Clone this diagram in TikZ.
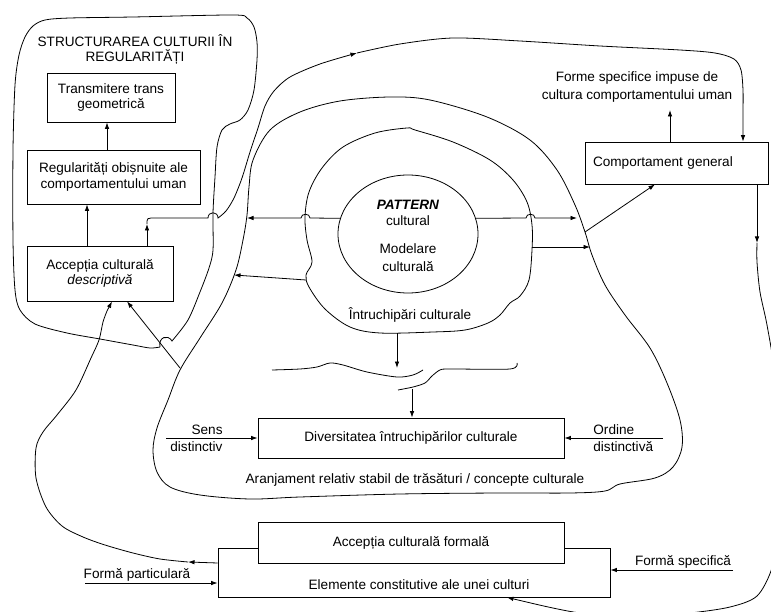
\documentclass[tikz,border=0pt]{standalone}
\usepackage{fontspec}
\setmainfont{Liberation Sans}
\usetikzlibrary{arrows.meta,shapes.geometric}
\begin{document}
\begin{tikzpicture}[x=1pt,y=-1pt, line width=0.8pt,
  >={Latex[length=6.5pt,width=4.5pt]},
  every node/.style={font=\fontsize{13.6}{15.5}\selectfont, inner sep=0pt},
  box/.style={draw, rectangle, align=center, fill=white},
  txt/.style={align=center}]
\clip (0,0) rectangle (771,612);
\fill[white] (0,0) rectangle (771,612);

% helper coordinates
\coordinate (c87) at (87,0);   \coordinate (c107) at (107,0);
\coordinate (c112) at (112,0); \coordinate (c127) at (127,0);
\coordinate (c147) at (147,0); \coordinate (c412) at (412,0);
\coordinate (c507) at (507,0); \coordinate (c655) at (655,0);
\coordinate (c670) at (670,0); \coordinate (c743) at (743,0);
\coordinate (c757) at (757,0);
\coordinate (r563) at (0,563); \coordinate (r570) at (0,570);
\coordinate (r583) at (0,583);

% free-form regions
% top-left cloud
\draw plot[smooth] coordinates {(160,347) (150,348) (133,345) (100,339) (67,333) (35,324) (20,310) (15,290) (13,240) (13,150) (15,85) (19,55) (25,37) (33,26) (45,20) (70,18) (133,17) (233,15) (247,18) (254,27) (257,42) (257,60) (254,90) (248,110) (240,120) (230,124) (222,130) (217,147) (215,177) (213,213) (213,250) (209,268) (200,292) (188,320) (172,341)} .. controls (168,334) and (158,337) .. (160,347);

% middle arc (Aranjament region)
\draw plot[smooth cycle, tension=0.55] coordinates {(253,160) (270,130) (300,112) (340,101) (390,97) (430,100) (487,117) (530,140) (557,170) (575,205) (585,232) (592,255) (605,285) (625,315) (650,348) (667,383) (680,420) (682,447) (673,467) (655,478) (620,484) (605,491) (570,493) (500,493) (400,494) (300,497) (250,499) (200,495) (170,487) (157,472) (153,450) (157,428) (168,400) (180,370) (200,338) (222,303) (236,270) (243,240) (247,215) (249,187)};

% inner arc (Intruchipari region)
\draw plot[smooth cycle, tension=0.55] coordinates {(305,217) (309,192) (322,168) (343,147) (375,133) (407,128) (415,130) (453,142) (490,160) (513,180) (527,202) (532,225) (532,250) (529,280) (520,296) (510,303) (500,315) (488,323) (465,330) (433,332) (380,333) (350,327) (325,309) (309,287) (306,275) (312,262) (307,240)};

% wavy lines
\draw plot[smooth] coordinates {(272,370) (300,369) (317,367) (330,363) (343,365) (367,372) (397,377) (413,375) (423,370)};
\draw plot[smooth] coordinates {(398,390) (413,387) (425,383) (432,376) (440,370) (450,369) (510,369) (517,363)};

% boxes
\node[box, minimum width=128, minimum height=49] (trans) at (111,97.5) {Transmitere trans\\geometrică};
\node[box, minimum width=173, minimum height=54] (regul) at (113.5,177) {Regularități obișnuite ale\\comportamentului uman};
\node[box, minimum width=146, minimum height=55] (accd) at (100,273.5) {Accepția culturală\\\textit{descriptivă}};
\node[box, minimum width=183, minimum height=42, text width=167, align=left] (comp) at (676.5,163) {Comportament general};
\node[box, minimum width=306, minimum height=40] (div) at (411,438) {Diversitatea întruchipărilor culturale};
\node[box, minimum width=392, minimum height=49] (elem) at (414,572.5) {};
\node[box, minimum width=306, minimum height=41] (accf) at (411,542.5) {Accepția culturală formală};
\node (elemt) at (419,585) {Elemente constitutive ale unei culturi};

% ellipse
\node[draw, ellipse, minimum width=140, minimum height=118] (pat) at (408,234) {};
\node[txt] (pat1) at (408,213) {\textbf{\textit{PATTERN}}\\[1pt]cultural};
\node[txt] (pat2) at (408,257.5) {Modelare\\[2pt]culturală};

% texts
\node[txt] (title) at (135,49.5) {STRUCTURAREA CULTURII ÎN\\REGULARITĂȚI};
\node[txt] (forme) at (637,87) {Forme specifice impuse de\\[2pt]cultura comportamentului uman};
\node (intr) at (410,315) {Întruchipări culturale};
\node (aranj) at (415,480) {Aranjament relativ stabil de trăsături / concepte culturale};
\node[anchor=east] (sens) at (223,430) {Sens};
\node[anchor=west] (sensd) at (170,447) {distinctiv};
\node[anchor=west] (ord) at (593,430) {Ordine};
\node[anchor=west] (ordd) at (593,447) {distinctivă};
\node (fpart) at (137,575) {Formă particulară};
\node (fspec) at (683,562) {Formă specifică};

% named points for connectors
\coordinate (b1) at (147,224);
\coordinate (b2) at (357,53);
\coordinate (e1) at (188,562);
\coordinate (f1) at (180,368);
\coordinate (g1) at (757,243);
\coordinate (lft1) at (247,218);
\coordinate (lft2a) at (306,280);
\coordinate (lft2b) at (234,275);
\coordinate (rgt1) at (577,218);
\coordinate (rgt2a) at (532,247);
\coordinate (rgt2b) at (590,247);
\coordinate (cg) at (585,232);
\coordinate (i1) at (397,333);
\coordinate (i2) at (397,368);
\coordinate (i3) at (412,389);
\coordinate (sensS) at (166,438);
\coordinate (ordS) at (663,438);
\coordinate (fpS) at (85,583);
\coordinate (fsS) at (733,570);
\coordinate (formeB) at (670,110);

% connectors in the left cloud
\draw[->] (accd.north -| c87) -- (regul.south -| c87);
\draw[->] (regul.north -| c107) -- (trans.south -| c107);

% big path from Acceptia descriptiva to Comportament general
\draw[->] (accd.north -| c147) -- (b1);
\draw[->] (b1) -- (147,221) .. controls (147,219) and (148,218) .. (151,218) -- (208,218) .. controls (208,211) and (218,211) .. (218,218) -- plot[smooth] coordinates {(218,218) (226,211) (234,198) (242,178) (250,152) (258,128) (265,106) (274,91) (290,77) (320,64) (b2)};
\draw[->] plot[smooth] coordinates {(b2) (400,44) (453,38) (520,41) (600,46) (680,50) (715,53) (734,59) (741,70) (743,90) (743,110)} -- (comp.north -| c743);

% Comportament general -> Elemente constitutive
\draw[->] (comp.south -| c757) -- (g1);
\draw[->] plot[smooth] coordinates {(g1) (757,262) (760,292) (767,325) (774,370) (779,450) (778,530) (772,568) (757,596) (730,607) (690,613) (640,617) (580,613) (535,604)} -- (elem.south -| c507);

% Elemente constitutive -> Acceptia descriptiva
\draw[->] (elem.west |- r563) -- (e1);
\draw[->] plot[smooth] coordinates {(e1) (160,559) (133,553) (105,545) (83,537) (62,526) (46,507) (36,478) (36,448) (43,432) (57,415) (76,390) (91,358) (99,340) (103,322) (107,311)} -- (accd.south -| c112);
\draw[->] (f1) -- (accd.south -| c127);

% arrows from the pattern region
\draw[->] (pat.167) -- (310,218) .. controls (310,213) and (301,213) .. (301,218) -- (lft1);
\draw[->] (lft2a) -- (lft2b);
\draw[->] (pat.13) -- (526,218) .. controls (526,213) and (535,213) .. (535,218) -- (rgt1);
\draw[->] (rgt2a) -- (rgt2b);
\draw[->] (cg) -- (comp.south -| c655);
\draw[->] (comp.north -| c670) -- (formeB);

% intruchipari arrows
\draw[->] (i1) -- (i2);
\draw[->] (i3) -- (div.north -| c412);

% side inputs
\draw[->] (sensS) -- (div.west);
\draw[->] (ordS) -- (div.east);
\draw[->] (fpS) -- (elem.west |- r583);
\draw[->] (fsS) -- (elem.east |- r570);
\end{tikzpicture}
\end{document}
